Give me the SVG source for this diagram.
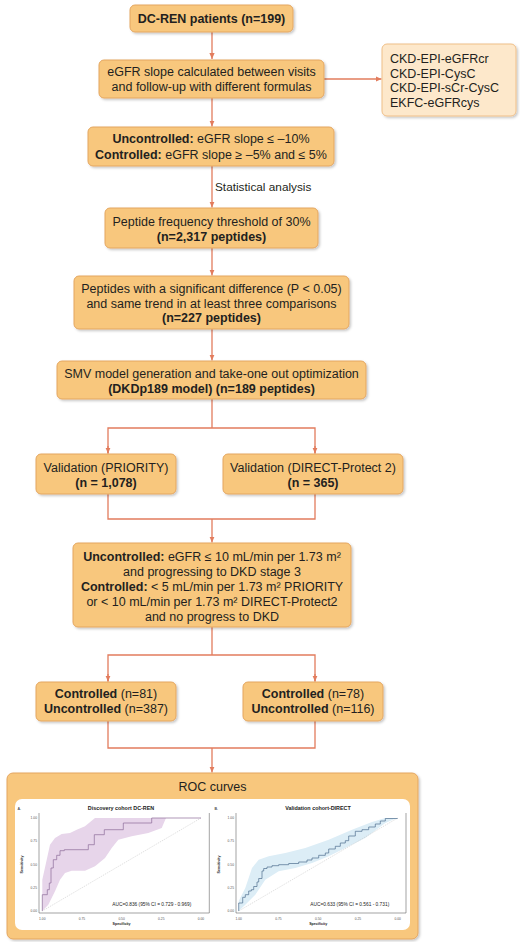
<svg xmlns="http://www.w3.org/2000/svg" width="520" height="942" viewBox="0 0 520 942">
<defs>
<style>
.box{fill:#f8c77d;stroke:#e4a660;stroke-width:1}
.lbox{fill:#fde8cb;stroke:#efbf88;stroke-width:1}
.t{font-family:"Liberation Sans",Arial,sans-serif;font-size:12.5px;fill:#231f20;text-anchor:middle}
.tl{font-family:"Liberation Sans",Arial,sans-serif;font-size:12.5px;fill:#231f20}
.b{font-weight:bold}
.c{fill:none;stroke:#e27c5d;stroke-width:1.3}
.ax{fill:none;stroke:#666;stroke-width:0.6}
.tk{font-family:"Liberation Sans",Arial,sans-serif;font-size:3.3px;fill:#555}
.pt{font-family:"Liberation Sans",Arial,sans-serif;font-size:5.4px;font-weight:bold;fill:#222;text-anchor:middle}
.auc{font-family:"Liberation Sans",Arial,sans-serif;font-size:4.8px;fill:#222}
.axl{font-family:"Liberation Sans",Arial,sans-serif;font-size:3.6px;font-weight:bold;fill:#222;text-anchor:middle}
.diag{stroke:#c8c8c8;stroke-width:0.6;stroke-dasharray:1.2 1}
</style>
<filter id="sh" x="-10%" y="-15%" width="125%" height="140%">
<feDropShadow dx="1.5" dy="1.5" stdDeviation="1.2" flood-color="#000" flood-opacity="0.22"/>
</filter>
<marker id="ah" markerUnits="userSpaceOnUse" markerWidth="6" markerHeight="6" viewBox="0 0 6 6" refX="6" refY="3" orient="auto">
<path d="M0,0.4 L6,3 L0,5.6 z" fill="#e27c5d"/>
</marker>
</defs>
<rect width="520" height="942" fill="#ffffff"/>

<g id="connectors">
<path class="c" d="M212,32 V59" marker-end="url(#ah)"/>
<path class="c" d="M324,79 H381.5" marker-end="url(#ah)"/>
<path class="c" d="M212,98 V126.5" marker-end="url(#ah)"/>
<path class="c" d="M212,166 V207.5" marker-end="url(#ah)"/>
<path class="c" d="M212,248 V275.5" marker-end="url(#ah)"/>
<path class="c" d="M212,329 V360.5" marker-end="url(#ah)"/>
<path class="c" d="M212,399 V428"/>
<path class="c" d="M108,453.5 V428 H315 V453.5" />
<path class="c" d="M108,446 V453.5" marker-end="url(#ah)"/>
<path class="c" d="M315,446 V453.5" marker-end="url(#ah)"/>
<path class="c" d="M108,494 V519 H315 V494"/>
<path class="c" d="M212,519 V542.5" marker-end="url(#ah)"/>
<path class="c" d="M212,627 V655"/>
<path class="c" d="M108,681.5 V655 H315 V681.5"/>
<path class="c" d="M108,674 V681.5" marker-end="url(#ah)"/>
<path class="c" d="M315,674 V681.5" marker-end="url(#ah)"/>
<path class="c" d="M108,721 V748 H315 V721"/>
<path class="c" d="M212,748 V772.5" marker-end="url(#ah)"/>
<text class="tl" x="215" y="190.5" style="font-size:11.8px">Statistical analysis</text>
</g>

<g id="n1">
<rect class="box" x="130" y="5" width="163" height="27" rx="5" filter="url(#sh)"/>
<text class="t b" x="211.5" y="23">DC-REN patients (n=199)</text>
</g>

<g id="n2">
<rect class="box" x="99" y="60" width="225" height="38" rx="5" filter="url(#sh)"/>
<text class="t" x="211.5" y="76">eGFR slope calculated between visits</text>
<text class="t" x="211.5" y="91">and follow-up with different formulas</text>
</g>

<g id="n3">
<rect class="lbox" x="382" y="44" width="134" height="72" rx="5" filter="url(#sh)"/>
<text class="tl" x="390" y="63">CKD-EPI-eGFRcr</text>
<text class="tl" x="390" y="77.5">CKD-EPI-CysC</text>
<text class="tl" x="390" y="92">CKD-EPI-sCr-CysC</text>
<text class="tl" x="390" y="106.5">EKFC-eGFRcys</text>
</g>

<g id="n4">
<rect class="box" x="88" y="127" width="246" height="39" rx="5" filter="url(#sh)"/>
<text class="t" x="211" y="143"><tspan class="b">Uncontrolled:</tspan> eGFR slope ≤ –10%</text>
<text class="t" x="211" y="158.5"><tspan class="b">Controlled:</tspan> eGFR slope ≥ –5% and ≤ 5%</text>
</g>

<g id="n5">
<rect class="box" x="105" y="208" width="213" height="40" rx="5" filter="url(#sh)"/>
<text class="t" x="211.5" y="226">Peptide frequency threshold of 30%</text>
<text class="t b" x="211.5" y="241">(n=2,317 peptides)</text>
</g>

<g id="n6">
<rect class="box" x="74" y="276" width="275" height="53" rx="5" filter="url(#sh)"/>
<text class="t" x="211.5" y="293">Peptides with a significant difference (P &lt; 0.05)</text>
<text class="t" x="211.5" y="307.5">and same trend in at least three comparisons</text>
<text class="t b" x="211.5" y="322">(n=227 peptides)</text>
</g>

<g id="n7">
<rect class="box" x="57" y="361" width="309" height="38" rx="5" filter="url(#sh)"/>
<text class="t" x="211.5" y="378">SMV model generation and take-one out optimization</text>
<text class="t b" x="211.5" y="393">(DKDp189 model) (n=189 peptides)</text>
</g>

<g id="n8">
<rect class="box" x="36" y="454" width="140" height="40" rx="5" filter="url(#sh)"/>
<text class="t" x="106" y="472">Validation (PRIORITY)</text>
<text class="t b" x="106" y="487">(n = 1,078)</text>
</g>

<g id="n9">
<rect class="box" x="223" y="454" width="180" height="40" rx="5" filter="url(#sh)"/>
<text class="t" x="313" y="472">Validation (DIRECT-Protect 2)</text>
<text class="t b" x="313" y="487">(n = 365)</text>
</g>

<g id="n10">
<rect class="box" x="73" y="543" width="278" height="84" rx="5" filter="url(#sh)"/>
<text class="t" x="212" y="560.5"><tspan class="b">Uncontrolled:</tspan> eGFR ≤ 10 mL/min per 1.73 m²</text>
<text class="t" x="212" y="575.5">and progressing to DKD stage 3</text>
<text class="t" x="212" y="590.5"><tspan class="b">Controlled:</tspan> &lt; 5 mL/min per 1.73 m² PRIORITY</text>
<text class="t" x="212" y="605.5">or &lt; 10 mL/min per 1.73 m² DIRECT-Protect2</text>
<text class="t" x="212" y="620.5">and no progress to DKD</text>
</g>

<g id="n11">
<rect class="box" x="36" y="682" width="140" height="39" rx="5" filter="url(#sh)"/>
<text class="t" x="106" y="697.5"><tspan class="b">Controlled</tspan> (n=81)</text>
<text class="t" x="106" y="712.5"><tspan class="b">Uncontrolled</tspan> (n=387)</text>
</g>

<g id="n12">
<rect class="box" x="243" y="682" width="140" height="39" rx="5" filter="url(#sh)"/>
<text class="t" x="313" y="697.5"><tspan class="b">Controlled</tspan> (n=78)</text>
<text class="t" x="313" y="712.5"><tspan class="b">Uncontrolled</tspan> (n=116)</text>
</g>

<g id="n13">
<rect class="box" x="7" y="773" width="411" height="166" rx="6" filter="url(#sh)"/>
<text class="t" x="212.5" y="790.5">ROC curves</text>
<rect x="15" y="799" width="395" height="131" rx="7" fill="#ffffff"/>

<!-- Plot A -->
<text class="tk" x="17.5" y="809.5" style="font-weight:bold;font-size:3.6px">A.</text>
<text class="pt" x="121" y="810">Discovery cohort DC-REN</text>
<path d="M42.3,911 L42.3,879.7 L50,844.7 L55,838 L61.7,834 L70,833 L76.7,829.7 L85,826.3 L95,818 L166,818 L161.7,828 L148.3,833 L131.7,836.3 L118.3,839.7 L111.7,848 L105,858 L95,866.3 L85,870.7 L71.7,870.7 L65,873 L60,879.7 L55,891.3 L48.3,904.7 Z" fill="#e7d5ea"/>
<line class="diag" x1="42.3" y1="911" x2="201" y2="818"/>
<path d="M42.3,911 V894.7 H47.3 V889.7 H49.3 V883 H51 V868 H53.3 V859.7 H56.7 V855.3 H60 V850.7 H64.3 V849.7 H88.3 V844.7 H94.3 V834.7 H104.3 V829.7 H123.3 V823 H151.7 V818 H201" fill="none" stroke="#8c6c99" stroke-width="0.7"/>
<path class="ax" d="M39,813 V913 H209.3 V813"/>
<g class="tk" text-anchor="end">
<text x="37" y="819.2">1.00</text><text x="37" y="842.4">0.75</text><text x="37" y="865.7">0.50</text><text x="37" y="888.9">0.25</text><text x="37" y="912.2">0.00</text>
</g>
<g class="tk" text-anchor="middle">
<text x="42.3" y="920">1.00</text><text x="82" y="920">0.75</text><text x="121.6" y="920">0.50</text><text x="161.3" y="920">0.25</text><text x="201" y="920">0.00</text>
</g>
<text class="axl" x="121.6" y="925">Specificity</text>
<text class="axl" transform="translate(22.5,864.5) rotate(-90)">Sensitivity</text>
<text class="auc" x="112.3" y="906">AUC=0.836 (95% CI = 0.729 - 0.969)</text>

<!-- Plot B -->
<text class="tk" x="214.5" y="809.5" style="font-weight:bold;font-size:3.6px">B.</text>
<text class="pt" x="318" y="810">Validation cohort-DIRECT</text>
<path d="M238.7,911 L238.7,901 L245.3,888 L252,868 L258.7,859.7 L268.7,856.3 L285.3,853 L305.3,848 L328.7,839.7 L352,829.7 L372,822 L385.3,818 L397,818 L385.3,823 L365.3,838 L345.3,848 L328.7,856.3 L312,863 L295.3,868 L278.7,871.3 L265.3,879.7 L255.3,894.7 L245.3,904.7 Z" fill="#dcedf6"/>
<line class="diag" x1="238.7" y1="911" x2="397.7" y2="818"/>
<path d="M238.7,911 V903 H242.7 V897.3 H245.3 V894.7 H248.7 V891 H251.3 V889.7 H253.7 V886.5 H257 V882 H258.7 V878.5 H262 V871 H263.7 V868.5 H267 V867 H272 V865.7 H278.7 V864.7 H288.7 V863.5 H298.7 V862 H307 V860 H312 V858 H318.7 V855.3 H325.3 V853 H328.7 V849 H335.3 V846.3 H340.3 V843 H345.3 V840.7 H348.7 V836 H355.3 V831.3 H362 V829.7 H368.7 V827 H375.3 V824 H380.3 V821 H385.3 V818.5 H397.7" fill="none" stroke="#4d6d8e" stroke-width="0.7"/>
<path class="ax" d="M236,813 V913 H406 V813"/>
<g class="tk" text-anchor="end">
<text x="234" y="819.2">1.00</text><text x="234" y="842.4">0.75</text><text x="234" y="865.7">0.50</text><text x="234" y="888.9">0.25</text><text x="234" y="912.2">0.00</text>
</g>
<g class="tk" text-anchor="middle">
<text x="238.7" y="920">1.00</text><text x="278.4" y="920">0.75</text><text x="318.2" y="920">0.50</text><text x="358" y="920">0.25</text><text x="397.7" y="920">0.00</text>
</g>
<text class="axl" x="318.2" y="925">Specificity</text>
<text class="axl" transform="translate(219.5,864.5) rotate(-90)">Sensitivity</text>
<text class="auc" x="310.3" y="906">AUC=0.633 (95% CI = 0.561 - 0.731)</text>
</g>
</svg>
